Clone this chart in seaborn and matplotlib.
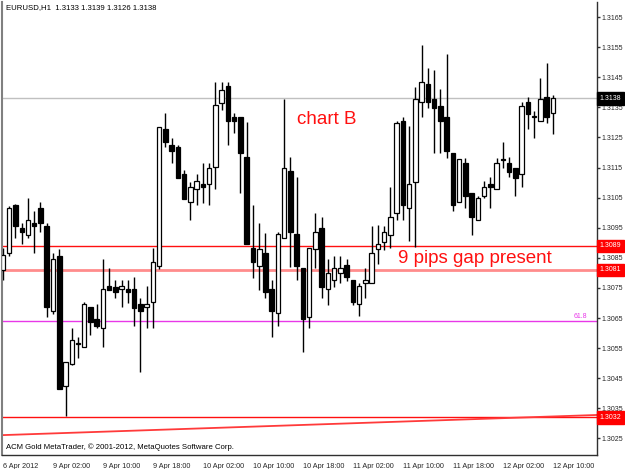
import numpy as np
import pandas as pd
import matplotlib
matplotlib.use("Agg")
import matplotlib.pyplot as plt
import seaborn as sns
from matplotlib.transforms import blended_transform_factory

# ---------------- data ----------------
opens = [1.30810, 1.30866, 1.31026, 1.30949, 1.30926, 1.30966, 1.31016, 1.30956, 1.30673, 1.30856,
         1.30424, 1.30497, 1.30567, 1.30554, 1.30687, 1.30647, 1.30617, 1.30756, 1.30753, 1.30746,
         1.30746, 1.30746, 1.30697, 1.30687, 1.30703, 1.30823, 1.31278, 1.31225, 1.31218, 1.31128,
         1.31035, 1.31079, 1.31095, 1.31095, 1.31152, 1.31364, 1.31421, 1.31318, 1.31318, 1.31185,
         1.30883, 1.30823, 1.30866, 1.30746, 1.30667, 1.30916, 1.31138, 1.30929, 1.30816, 1.30653,
         1.30879, 1.30949, 1.30746, 1.30776, 1.30800, 1.30826, 1.30776, 1.30697, 1.30766, 1.30766,
         1.30879, 1.30903, 1.30926, 1.30999, 1.31305, 1.31016, 1.31102, 1.31368, 1.31427, 1.31378,
         1.31354, 1.31318, 1.31198, 1.31035, 1.31165, 1.31065, 1.30976, 1.31055, 1.31095, 1.31079,
         1.31178, 1.31165, 1.31148, 1.31128, 1.31368, 1.31318, 1.31305, 1.31384, 1.31330]
highs = [1.30883, 1.31022, 1.31029, 1.30966, 1.31049, 1.31006, 1.31035, 1.30966, 1.30866, 1.30879,
         1.30504, 1.30617, 1.30587, 1.30703, 1.30687, 1.30697, 1.30846, 1.30816, 1.30776, 1.30776,
         1.30776, 1.30786, 1.30717, 1.30756, 1.30883, 1.31285, 1.31331, 1.31248, 1.31225, 1.31142,
         1.31102, 1.31128, 1.31165, 1.31165, 1.31434, 1.31434, 1.31434, 1.31331, 1.31318, 1.31301,
         1.31026, 1.30966, 1.30932, 1.30776, 1.30936, 1.31378, 1.31185, 1.31119, 1.30816, 1.30883,
         1.30999, 1.30986, 1.30846, 1.30856, 1.30856, 1.30846, 1.30776, 1.30766, 1.30816, 1.30956,
         1.30959, 1.30956, 1.31085, 1.31305, 1.31318, 1.31288, 1.31418, 1.31557, 1.31481, 1.31474,
         1.31411, 1.31527, 1.31198, 1.31178, 1.31182, 1.31065, 1.31055, 1.31105, 1.31119, 1.31182,
         1.31235, 1.31185, 1.31148, 1.31368, 1.31384, 1.31338, 1.31447, 1.31497, 1.31390]
lows = [1.30776, 1.30856, 1.30916, 1.30896, 1.30916, 1.30866, 1.30936, 1.30653, 1.30663, 1.30414,
        1.30325, 1.30494, 1.30517, 1.30554, 1.30594, 1.30617, 1.30554, 1.30743, 1.30717, 1.30687,
        1.30700, 1.30623, 1.30471, 1.30617, 1.30617, 1.30813, 1.31218, 1.31165, 1.31115, 1.31045,
        1.30976, 1.31026, 1.31032, 1.31026, 1.31079, 1.31341, 1.31225, 1.31265, 1.31065, 1.30896,
        1.30783, 1.30743, 1.30717, 1.30587, 1.30623, 1.30916, 1.30820, 1.30776, 1.30537, 1.30617,
        1.30816, 1.30717, 1.30693, 1.30753, 1.30766, 1.30773, 1.30693, 1.30657, 1.30717, 1.30766,
        1.30829, 1.30876, 1.30883, 1.30976, 1.30976, 1.30906, 1.30886, 1.31318, 1.31348, 1.31198,
        1.31198, 1.31182, 1.31006, 1.31035, 1.31016, 1.30926, 1.30976, 1.31049, 1.31016, 1.31079,
        1.31148, 1.31119, 1.31055, 1.31085, 1.31278, 1.31248, 1.31305, 1.31298, 1.31260]
closes = [1.30859, 1.31016, 1.30956, 1.30936, 1.30976, 1.30956, 1.30966, 1.30687, 1.30846, 1.30414,
          1.30504, 1.30577, 1.30564, 1.30697, 1.30637, 1.30623, 1.30746, 1.30743, 1.30736, 1.30756,
          1.30736, 1.30683, 1.30673, 1.30697, 1.30836, 1.31285, 1.31235, 1.31205, 1.31115, 1.31045,
          1.31085, 1.31105, 1.31085, 1.31148, 1.31358, 1.31408, 1.31305, 1.31305, 1.31198, 1.30896,
          1.30836, 1.30879, 1.30736, 1.30673, 1.30929, 1.31148, 1.30936, 1.30823, 1.30647, 1.30883,
          1.30936, 1.30753, 1.30800, 1.30816, 1.30816, 1.30786, 1.30703, 1.30756, 1.30776, 1.30866,
          1.30896, 1.30936, 1.30986, 1.31298, 1.31026, 1.31095, 1.31378, 1.31434, 1.31368, 1.31348,
          1.31305, 1.31205, 1.31026, 1.31178, 1.31055, 1.30986, 1.31049, 1.31085, 1.31085, 1.31165,
          1.31175, 1.31135, 1.31115, 1.31354, 1.31328, 1.31318, 1.31378, 1.31318, 1.31380]

xtick_labels = ["6 Apr 2012", "9 Apr 02:00", "9 Apr 10:00", "9 Apr 18:00", "10 Apr 02:00",
                "10 Apr 10:00", "10 Apr 18:00", "11 Apr 02:00", "11 Apr 10:00", "11 Apr 18:00",
                "12 Apr 02:00", "12 Apr 10:00"]
xtick_bars = [0, 8, 16, 24, 32, 40, 48, 56, 64, 72, 80, 88]
ytick_values = [1.3025, 1.3035, 1.3045, 1.3055, 1.3065, 1.3075, 1.3085, 1.3095,
                1.3105, 1.3115, 1.3125, 1.3135, 1.3145, 1.3155, 1.3165]

bid_level = 1.3138
red_level = 1.3089
pink_level = 1.3081
fib_level = 1.3064
low_level = 1.3032
trend_x = [-0.16, 95.04]
trend_y = [1.30261, 1.30328]

# ---------------- figure ----------------
sns.set_style("white")
plt.rcParams["font.family"] = ["Liberation Sans", "DejaVu Sans"]

W, H = 625, 469
fig = plt.figure(figsize=(W / 100, H / 100), dpi=100)
fig.patch.set_facecolor("white")
ax = fig.add_axes([2 / W, 14 / H, 595 / W, 453 / H])
ax.set_facecolor("white")

df = pd.DataFrame({"bar": np.arange(len(opens)), "open": opens, "high": highs,
                   "low": lows, "close": closes})
df["bull"] = df["close"] >= df["open"]
df["body_lo"] = df[["open", "close"]].min(axis=1)
df["body_h"] = (df["close"] - df["open"]).abs().clip(lower=0.00002)

# level lines
ax.axhline(bid_level, color="#c0c0c0", lw=1, zorder=1)
ax.axhline(red_level, color="#ff1010", lw=1, zorder=1)
ax.axhline(pink_level, color="#ff8c8c", lw=2, zorder=1)
ax.axhline(fib_level, color="#e838e8", lw=1, zorder=1)
ax.axhline(low_level, color="#ff1010", lw=1, zorder=1)
sns.lineplot(x=trend_x, y=trend_y, ax=ax, color="#ff3a3a", lw=1.3, zorder=1)

# candles
ax.vlines(df["bar"], df["low"], df["high"], color="black", lw=1, zorder=2)
ax.bar(df["bar"], df["body_h"], bottom=df["body_lo"], width=0.72,
       color=np.where(df["bull"], "white", "black"), edgecolor="black",
       linewidth=0.9, zorder=3)

ax.set_xlim(-0.16, 95.04)
ax.set_ylim(1.30195, 1.31700)

# axes styling
for s in ["left", "bottom", "right"]:
    ax.spines[s].set_visible(True)
    ax.spines[s].set_color("#303030")
    ax.spines[s].set_linewidth(1)
ax.spines["left"].set_color("#808080")
ax.spines["left"].set_linewidth(1.5)
ax.spines["top"].set_visible(False)

ax.yaxis.tick_right()
ax.set_yticks(ytick_values)
ax.set_yticklabels([f"{v:.4f}" for v in ytick_values])
ax.tick_params(axis="y", direction="out", length=2, width=1, color="#303030",
               labelsize=5, pad=1.5, right=True, left=False)
ax.set_xticks(xtick_bars)
ax.set_xticklabels(xtick_labels, ha="left")
ax.tick_params(axis="x", direction="out", length=3, width=1, color="#303030",
               labelsize=5.2, pad=2.5)

# text
ax.text(0.006, 0.988, "EURUSD,H1  1.3133 1.3139 1.3126 1.3138", transform=ax.transAxes,
        fontsize=5.6, ha="left", va="center", color="black")
ax.text(0.006, 0.018, "ACM Gold MetaTrader, \u00a9 2001-2012, MetaQuotes Software Corp.",
        transform=ax.transAxes, fontsize=5.6, ha="left", va="center", color="black")
ax.text(47.0, 1.31295, "chart B", fontsize=13.5, color="#ff1010", ha="left", va="baseline")
ax.text(63.2, 1.30833, "9 pips gap present", fontsize=13.5, color="#ff1010",
        ha="left", va="baseline")

tr = blended_transform_factory(ax.transAxes, ax.transData)
ax.text(0.984, fib_level + 0.00005, "61.8", transform=tr, fontsize=5, color="#e838e8",
        ha="right", va="bottom")

for lvl, bg in [(bid_level, "black"), (red_level, "#ff0000"), (pink_level, "#ff0000"),
                (low_level, "#ff0000")]:
    ax.text(1.0045, lvl, f"{lvl:.4f}", transform=tr, fontsize=5, color="white",
            ha="left", va="center", clip_on=False, zorder=5,
            bbox=dict(boxstyle="square,pad=0.4", fc=bg, ec=bg))

fig.savefig("out.png", dpi=100, facecolor="white")
